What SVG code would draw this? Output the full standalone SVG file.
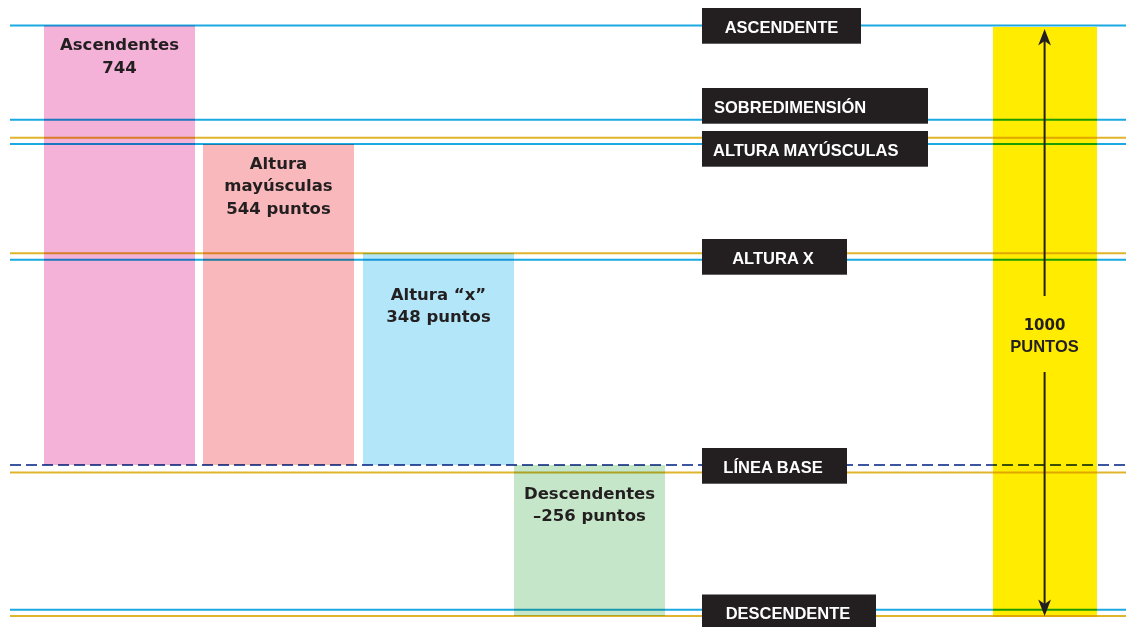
<svg xmlns="http://www.w3.org/2000/svg" width="1126" height="627" viewBox="0 0 1126 627">
<style>
.bar-text{font-family:"DejaVu Sans",sans-serif;font-weight:bold;font-size:16.5px;fill:#231f20;text-anchor:middle}
.lbl rect{fill:#231f20}
.lbl text{font-family:"Liberation Sans",Arial,sans-serif;font-weight:bold;font-size:16.5px;fill:#ffffff}
.guide{fill:none;mix-blend-mode:multiply}
.blue{stroke:#1ba9e1;stroke-width:2}
.orange{stroke:#e0b52c;stroke-width:2}
.dash{stroke:#3b55a0;stroke-width:2;stroke-dasharray:11 5}
.arrow-line{stroke:#231f20;stroke-width:2;fill:none}
.arrow-head{fill:#231f20}
</style>
<rect width="1126" height="627" fill="#ffffff"/>

<g id="bar-ascendentes">
  <rect x="44" y="25.5" width="151" height="439.5" fill="#f4b2d8"/>
  <text class="bar-text" x="119.5" y="49.5">Ascendentes</text>
  <text class="bar-text" x="119.5" y="72.5">744</text>
</g>
<g id="bar-mayusculas">
  <rect x="203" y="144" width="151" height="321" fill="#f9b9bc"/>
  <text class="bar-text" x="278.5" y="168.5">Altura</text>
  <text class="bar-text" x="278.5" y="191">mayúsculas</text>
  <text class="bar-text" x="278.5" y="213.5">544 puntos</text>
</g>
<g id="bar-x">
  <rect x="363" y="253" width="151" height="212" fill="#b3e6f9"/>
  <text class="bar-text" x="438.5" y="299.5">Altura “x”</text>
  <text class="bar-text" x="438.5" y="322">348 puntos</text>
</g>
<g id="bar-descendentes">
  <rect x="514" y="465" width="151" height="151" fill="#c5e6c8"/>
  <text class="bar-text" x="589.5" y="498.5">Descendentes</text>
  <text class="bar-text" x="589.5" y="521">–256 puntos</text>
</g>
<g id="bar-total">
  <rect x="993" y="27" width="104" height="590" fill="#ffec00"/>
  <text x="1044.5" y="330" style="font-family:'DejaVu Sans',sans-serif;font-weight:bold;font-size:15px;fill:#231f20;text-anchor:middle">1000</text>
  <text x="1044.5" y="352" style="font-family:'Liberation Sans',Arial,sans-serif;font-weight:bold;font-size:16.5px;fill:#231f20;text-anchor:middle">PUNTOS</text>
</g>

<g id="guides">
  <line class="guide blue" x1="10" y1="25.5" x2="1126" y2="25.5"/>
  <line class="guide blue" x1="10" y1="119.7" x2="1126" y2="119.7"/>
  <line class="guide orange" x1="10" y1="137.7" x2="1126" y2="137.7"/>
  <line class="guide blue" x1="10" y1="144" x2="1126" y2="144"/>
  <line class="guide orange" x1="10" y1="253.3" x2="1126" y2="253.3"/>
  <line class="guide blue" x1="10" y1="259.7" x2="1126" y2="259.7"/>
  <line class="guide dash" x1="10" y1="465" x2="1126" y2="465"/>
  <line class="guide orange" x1="10" y1="472.4" x2="1126" y2="472.4"/>
  <line class="guide blue" x1="10" y1="609.7" x2="1126" y2="609.7"/>
  <line class="guide orange" x1="10" y1="616" x2="1126" y2="616"/>
</g>

<g id="connectors">
  <line class="arrow-line" x1="1044.6" y1="38" x2="1044.6" y2="296"/>
  <line class="arrow-line" x1="1044.6" y1="372" x2="1044.6" y2="607"/>
  <path class="arrow-head" d="M1044.6 29 L1051 45.5 L1044.6 41 L1038.2 45.5 Z"/>
  <path class="arrow-head" d="M1044.6 616 L1051 599.5 L1044.6 604 L1038.2 599.5 Z"/>
</g>

<g id="label-ascendente" class="lbl">
  <rect x="702" y="8" width="159" height="35.7"/>
  <text x="781.5" y="32.5" text-anchor="middle">ASCENDENTE</text>
</g>
<g id="label-sobredimension" class="lbl">
  <rect x="702" y="88" width="226" height="35.7"/>
  <text x="714" y="112.8">SOBREDIMENSIÓN</text>
</g>
<g id="label-altura-mayusculas" class="lbl">
  <rect x="702" y="131" width="226" height="35.7"/>
  <text x="713" y="156">ALTURA MAYÚSCULAS</text>
</g>
<g id="label-altura-x" class="lbl">
  <rect x="702" y="239" width="145" height="35.7"/>
  <text x="773" y="264" text-anchor="middle">ALTURA X</text>
</g>
<g id="label-linea-base" class="lbl">
  <rect x="702" y="448" width="145" height="35.7"/>
  <text x="773" y="473" text-anchor="middle">LÍNEA BASE</text>
</g>
<g id="label-descendente" class="lbl">
  <rect x="702" y="594.5" width="174" height="35"/>
  <text x="788" y="619" text-anchor="middle">DESCENDENTE</text>
</g>
</svg>
